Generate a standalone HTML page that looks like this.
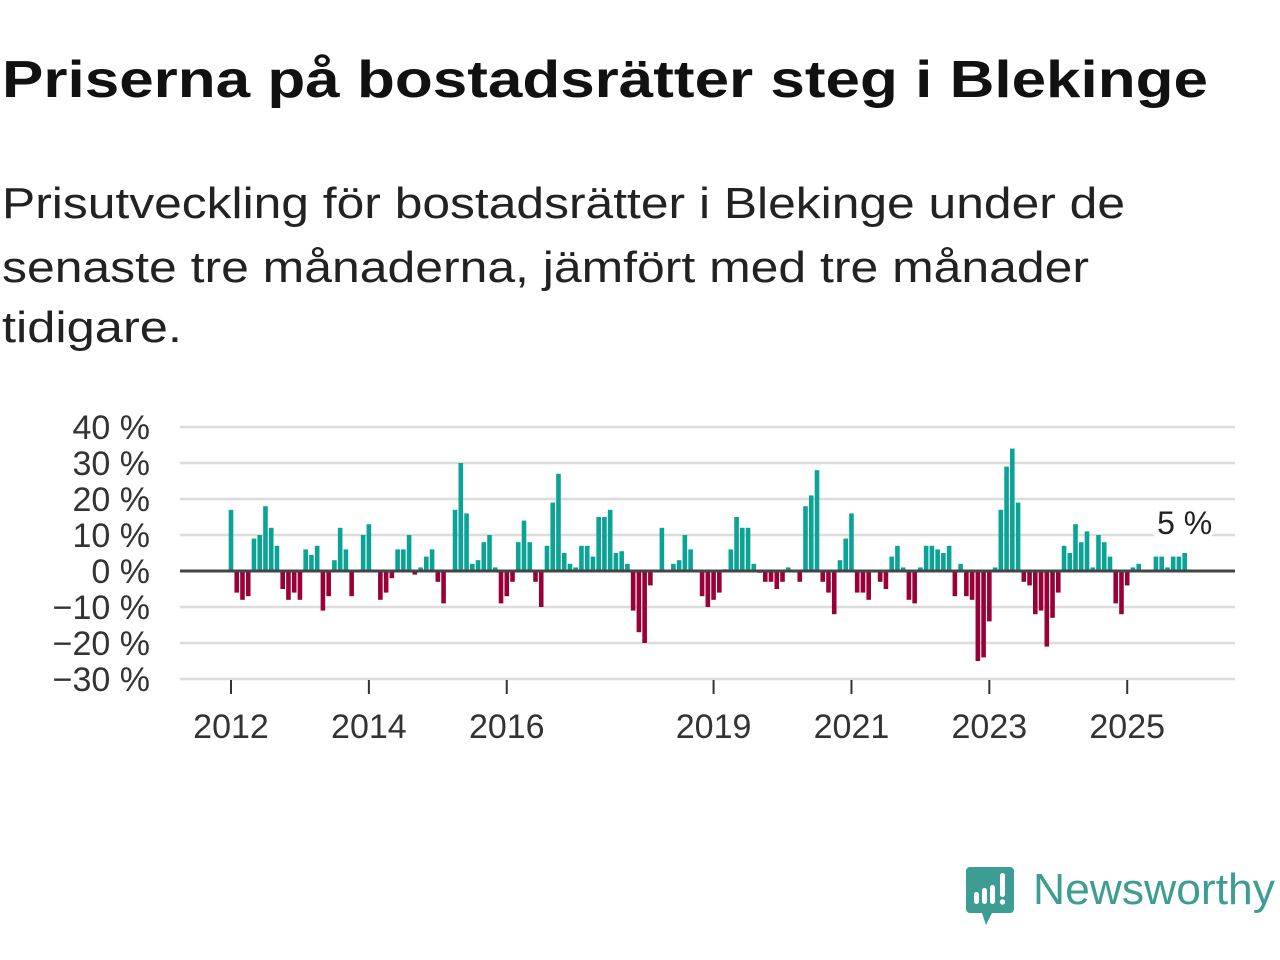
<!DOCTYPE html>
<html><head><meta charset="utf-8"><style>
html,body{margin:0;padding:0;background:#fff;}
svg{display:block;font-family:"Liberation Sans","DejaVu Sans",sans-serif;}
</style></head><body>
<svg id="chart" width="1280" height="960" viewBox="0 0 1280 960">
<text x="2" y="97" font-size="52" font-weight="bold" fill="#111" textLength="1206" lengthAdjust="spacingAndGlyphs">Priserna på bostadsrätter steg i Blekinge</text>
<g fill="#222" font-size="44">
<text x="2" y="218" textLength="1123" lengthAdjust="spacingAndGlyphs">Prisutveckling för bostadsrätter i Blekinge under de</text>
<text x="2" y="282" textLength="1087" lengthAdjust="spacingAndGlyphs">senaste tre månaderna, jämfört med tre månader</text>
<text x="2" y="342" textLength="180" lengthAdjust="spacingAndGlyphs">tidigare.</text>
</g>
<g id="grid"></g>
<g id="yticks"></g>
<g id="bars"></g>
<g id="xticks"></g>
<g id="anno"></g>
<g>
<path d="M970 867 h40 a4 4 0 0 1 4 4 v38 a4 4 0 0 1 -4 4 h-18 l-6 12 l-4 -12 h-12 a4 4 0 0 1 -4 -4 v-38 a4 4 0 0 1 4 -4z" fill="#3d9d93"/>
<rect x="974" y="892" width="5" height="12" rx="2.5" fill="#fff"/>
<rect x="982" y="888" width="5" height="16" rx="2.5" fill="#fff"/>
<rect x="990" y="885" width="5" height="19" rx="2.5" fill="#fff"/>
<rect x="1000" y="873" width="5" height="24" rx="2.5" fill="#fff"/>
<circle cx="1002.5" cy="902" r="2.7" fill="#fff"/>
<text x="1033" y="904" font-size="44" fill="#3d9d93" textLength="242" lengthAdjust="spacingAndGlyphs">Newsworthy</text>
</g>
</svg>
<script>
const values = [17,-6,-8,-7,9,10,18,12,7,-5,-8,-6,-8,6,4.5,7,-11,-7,3,12,6,-7,0,10,13,0,-8,-6,-2,6,6,10,-1,1,4,6,-3,-9,0,17,30,16,2,3,8,10,1,-9,-7,-3,8,14,8,-3,-10,7,19,27,5,2,1,7,7,4,15,15,17,5,5.5,2,-11,-17,-20,-4,0,12,0,2,3,10,6,0,-7,-10,-8,-6,0.5,6,15,12,12,2,-0.5,-3,-3,-5,-3,1,0,-3,18,21,28,-3,-6,-12,3,9,16,-6,-6,-8,0,-3,-5,4,7,1,-8,-9,1,7,7,6,5,7,-7,2,-7,-8,-25,-24,-14,1,17,29,34,19,-3,-4,-12,-11,-21,-13,-6,7,5,13,8,11,1,10,8,4,-9,-12,-4,1,2,0,0,4,4,1,4,4,5];
const yTicks = [40,30,20,10,0,-10,-20,-30];
const xYears = [2012,2014,2016,2019,2021,2023,2025];
const startYear = 2012;
const NS='http://www.w3.org/2000/svg';
const y0=571, pxPer=3.6, x0=231, step=5.745;
const ys=v=>y0-v*pxPer;
const xs=i=>x0+i*step;
function mk(tag,attrs,parent){const e=document.createElementNS(NS,tag);for(const k in attrs)e.setAttribute(k,attrs[k]);parent.appendChild(e);return e;}
const grid=document.getElementById('grid'),yt=document.getElementById('yticks'),bars=document.getElementById('bars'),xt=document.getElementById('xticks'),anno=document.getElementById('anno');
yTicks.forEach(t=>{
 if(t!==0){const l=mk('line',{x1:180,x2:1235,y1:ys(t),y2:ys(t),stroke:'#dcdcdc','stroke-width':2.5},grid);
 
 }
 const tx=mk('text',{x:150,y:ys(t)+12,'text-anchor':'end','font-size':34,fill:'#333'},yt);
 tx.textContent=(t<0?'\u2212'+(-t):t)+' %';
 
 
});
values.forEach((v,i)=>{
 const r=mk('rect',{x:xs(i)-2.3,width:4.6,y:v>=0?ys(v):y0,height:Math.abs(v)*pxPer,fill:v>=0?'#0aa396':'#990038'},bars);
 
 
});
const zl=mk('line',{x1:180,x2:1235,y1:y0,y2:y0,stroke:'#444','stroke-width':3},bars);


xYears.forEach(yr=>{
 const x=xs((yr-startYear)*12);
 const l=mk('line',{x1:x,x2:x,y1:680,y2:694,stroke:'#333','stroke-width':2},xt);
 
 
 const t=mk('text',{x:x,y:738,'text-anchor':'middle','font-size':34,fill:'#333'},xt);
 t.textContent=yr;
 
 
});
const last=values.length-1;
const bg=mk('rect',{x:xs(last)-34,y:ys(values[last])-50,width:64,height:34,rx:8,fill:'#fff'},anno);


const at=mk('text',{x:xs(last),y:ys(values[last])-19,'text-anchor':'middle','font-size':32,fill:'#222'},anno);
at.textContent=values[last]+' %';


</script>
</body></html>
